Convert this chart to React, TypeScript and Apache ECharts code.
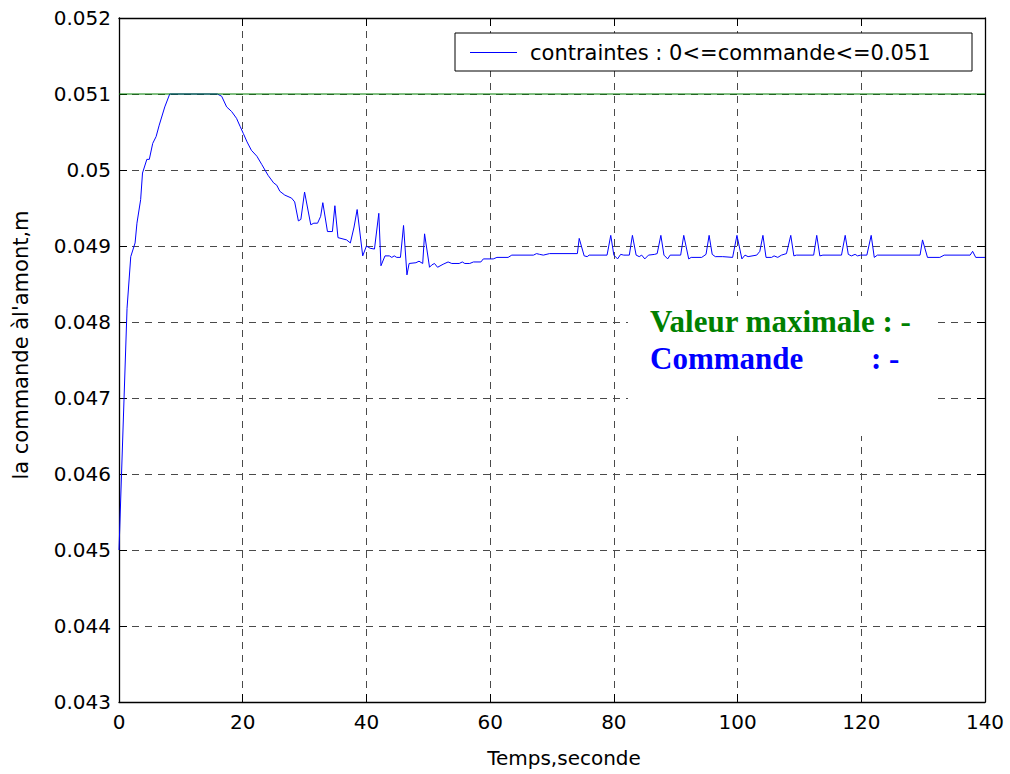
import React, { useEffect, useRef } from "react";
import * as echarts from "echarts";

const legendLabel = "contraintes : 0<=commande<=0.051";
const xTitle = "Temps,seconde";
const yTitle = "la commande àl'amont,m";
const annotMax = "Valeur maximale : -";
const annotCmd = "Commande";
const annotCmdSuffix = ": -";

const xMin = 0;
const xMax = 140;
const xStep = 20;
const yMin = 0.043;
const yMax = 0.052;
const yStep = 0.001;

const timeSec = [
  0, 1.3, 1.9, 2.6, 2.9, 3.5, 3.8, 4.5, 4.9, 5.45, 6.0, 6.5, 7.4, 8.2, 15.9, 16.6, 17.4, 18.2, 19.0, 19.6,
  20.1, 20.7, 21.4, 22.3, 23.1, 24.1, 25.0, 25.5, 26.0, 26.8, 27.9, 28.4, 29.0, 29.4, 30.0, 31.0, 31.5, 32.1,
  32.6, 32.95, 33.7, 34.5, 34.9, 35.4, 36.8, 37.4, 38.0, 38.5, 39.4, 40.0, 40.6, 41.3, 42.0, 42.35, 43.0, 43.7,
  44.1, 44.5, 44.9, 45.5, 46.0, 46.55, 46.9, 48.0, 48.5, 49.1, 49.4, 50.2, 50.55, 51.0, 51.5, 52.4, 53.2, 53.8,
  55.0, 55.5, 55.9, 56.7, 57.3, 58.5, 58.9, 60.5, 61.1, 62.9, 63.5, 67.0, 67.5, 68.0, 68.6, 69.6, 74.1, 74.4,
  75.2, 75.7, 76.0, 78.9, 79.5, 80.0, 80.6, 81.1, 81.6, 82.5, 83.0, 83.6, 84.1, 84.5, 85.0, 85.6, 86.6, 87.0,
  87.6, 88.1, 88.7, 89.1, 90.8, 91.3, 92.1, 92.5, 94.2, 94.9, 95.4, 95.9, 96.4, 97.6, 99.2, 99.9, 100.7, 101.2,
  101.7, 103.1, 103.6, 104.1, 104.6, 105.5, 105.9, 106.5, 107.1, 107.9, 108.6, 109.1, 109.5, 112.3, 112.8, 113.3,
  113.8, 116.8, 117.4, 117.9, 118.4, 119.0, 119.4, 119.9, 120.9, 121.6, 122.1, 122.6, 129.5, 129.9, 130.7, 132.7,
  133.4, 137.6, 138.0, 138.5, 140,
];

const commande = [
  0.045, 0.04818, 0.04886, 0.04904, 0.0493, 0.04961, 0.04996, 0.05014, 0.05014, 0.05035, 0.05044, 0.05059, 0.05083, 0.051, 0.051, 0.05097, 0.05083, 0.05077, 0.05068, 0.05057,
  0.05048, 0.05037, 0.05026, 0.05018, 0.05007, 0.04993, 0.04983, 0.0498, 0.04972, 0.04967, 0.04963, 0.04958, 0.04933, 0.04935, 0.04971, 0.04928, 0.0493, 0.0493,
  0.04939, 0.04957, 0.04919, 0.04919, 0.04953, 0.04911, 0.04908, 0.04904, 0.04925, 0.04948, 0.04887, 0.049, 0.04897, 0.04896, 0.04943, 0.04874, 0.04887, 0.04887,
  0.04885, 0.04887, 0.04885, 0.04885, 0.04927, 0.04862, 0.04877, 0.04878, 0.0488, 0.04877, 0.04916, 0.04872, 0.04875, 0.04877, 0.04872, 0.04876, 0.04879, 0.04877,
  0.04877, 0.04879, 0.04877, 0.04877, 0.04879, 0.04879, 0.04883, 0.04883, 0.04885, 0.04885, 0.04888, 0.04888, 0.0489, 0.04889, 0.04888, 0.0489, 0.0489, 0.0491,
  0.04887, 0.04886, 0.04888, 0.04888, 0.04914, 0.04888, 0.04883, 0.04889, 0.04888, 0.04888, 0.04914, 0.04888, 0.04886, 0.04888, 0.04883, 0.04888, 0.04889, 0.0489,
  0.04914, 0.04888, 0.04883, 0.04888, 0.04888, 0.04914, 0.04883, 0.04885, 0.04885, 0.04889, 0.04914, 0.04889, 0.04886, 0.04886, 0.04885, 0.04914, 0.04883, 0.04888,
  0.04886, 0.04888, 0.04893, 0.04914, 0.04885, 0.04885, 0.04887, 0.04885, 0.04888, 0.0489, 0.04914, 0.04887, 0.04888, 0.04888, 0.04914, 0.04887,
  0.04888, 0.04888, 0.04914, 0.04889, 0.04887, 0.04889, 0.04887, 0.04888, 0.04888, 0.04914, 0.04885, 0.04888, 0.04888, 0.04908, 0.04885, 0.04885,
  0.04888, 0.04888, 0.04893, 0.04885, 0.04885,
];

const limitTime = [0, 140];
const limitValue = [0.051, 0.051];

const FONT = "DejaVu Sans";

export default function App() {
  const ref = useRef<HTMLDivElement>(null);

  useEffect(() => {
    if (!ref.current) return;
    const chart = echarts.init(ref.current, null, { renderer: "svg" });

    const mainData = timeSec.map((t, i) => [t, commande[i]]);
    const limitData = limitTime.map((t, i) => [t, limitValue[i]]);

    const gridLine = { show: true, lineStyle: { color: "#4a4a4a", type: [7, 6], width: 1 } };
    const axisLine = { show: true, onZero: false, lineStyle: { color: "#000", width: 1.3 } };
    const tick = { show: true, inside: true, length: 8, lineStyle: { color: "#000" } };
    const yFmt = (v: number) => String(parseFloat(v.toFixed(3)));

    chart.setOption({
      animation: false,
      backgroundColor: "#fff",
      grid: { left: 119, top: 18, right: 25, bottom: 72, containLabel: false },
      xAxis: [
        {
          type: "value", position: "bottom", min: xMin, max: xMax, interval: xStep,
          axisLine, axisTick: tick, splitLine: gridLine,
          axisLabel: { color: "#000", fontSize: 20, fontFamily: FONT, margin: 10 },
          name: xTitle, nameLocation: "middle", nameGap: 46,
          nameTextStyle: { color: "#000", fontSize: 20, fontFamily: FONT, padding: [0, 0, 0, 24] },
        },
        {
          type: "value", position: "top", min: xMin, max: xMax, interval: xStep,
          axisLine, axisTick: tick, splitLine: { show: false }, axisLabel: { show: false },
        },
      ],
      yAxis: [
        {
          type: "value", position: "left", min: yMin, max: yMax, interval: yStep,
          axisLine, axisTick: tick, splitLine: gridLine,
          axisLabel: { color: "#000", fontSize: 20, fontFamily: FONT, margin: 8, formatter: yFmt },
          name: yTitle, nameLocation: "middle", nameGap: 88, nameRotate: 90,
          nameTextStyle: { color: "#000", fontSize: 21, fontFamily: FONT, padding: [0, 0, 0, 30] },
        },
        {
          type: "value", position: "right", min: yMin, max: yMax, interval: yStep,
          axisLine, axisTick: tick, splitLine: { show: false }, axisLabel: { show: false },
        },
      ],
      legend: {
        data: [{ name: legendLabel, icon: "rect" }],
        left: 470, top: 42, padding: 0, z: 8,
        itemWidth: 47, itemHeight: 1,
        itemStyle: { color: "#0000ff" },
        textStyle: { color: "#000", fontSize: 21, fontFamily: FONT, padding: [0, 0, 0, 8] },
      },
      graphic: [
        { type: "rect", z: 5, shape: { x: 455, y: 33, width: 517, height: 38 }, style: { fill: "#fff", stroke: "#000", lineWidth: 1 } },
        { type: "rect", z: 5, shape: { x: 628, y: 296, width: 310, height: 140 }, style: { fill: "#fff" } },
        { type: "text", z: 6, x: 650, y: 321.5, style: { text: annotMax, fill: "#008000", font: "bold 31px 'Liberation Serif'", verticalAlign: "middle" } },
        { type: "text", z: 6, x: 650, y: 358, style: { text: annotCmd, fill: "#0000ff", font: "bold 31px 'Liberation Serif'", verticalAlign: "middle" } },
        { type: "text", z: 6, x: 871, y: 358, style: { text: annotCmdSuffix, fill: "#0000ff", font: "bold 31px 'Liberation Serif'", verticalAlign: "middle" } },
      ],
      series: [
        {
          name: legendLabel, type: "line", data: mainData, symbol: "none",
          lineStyle: { color: "#0000ff", width: 1 }, itemStyle: { color: "#0000ff" }, z: 3,
        },
        {
          name: "max", type: "line", data: limitData, symbol: "none",
          lineStyle: { color: "#008000", width: 1 }, itemStyle: { color: "#008000" }, z: 3,
        },
      ],
    });

    return () => chart.dispose();
  }, []);

  return <div ref={ref} style={{ position: "fixed", left: 0, top: 0, width: 1010, height: 774 }} />;
}
